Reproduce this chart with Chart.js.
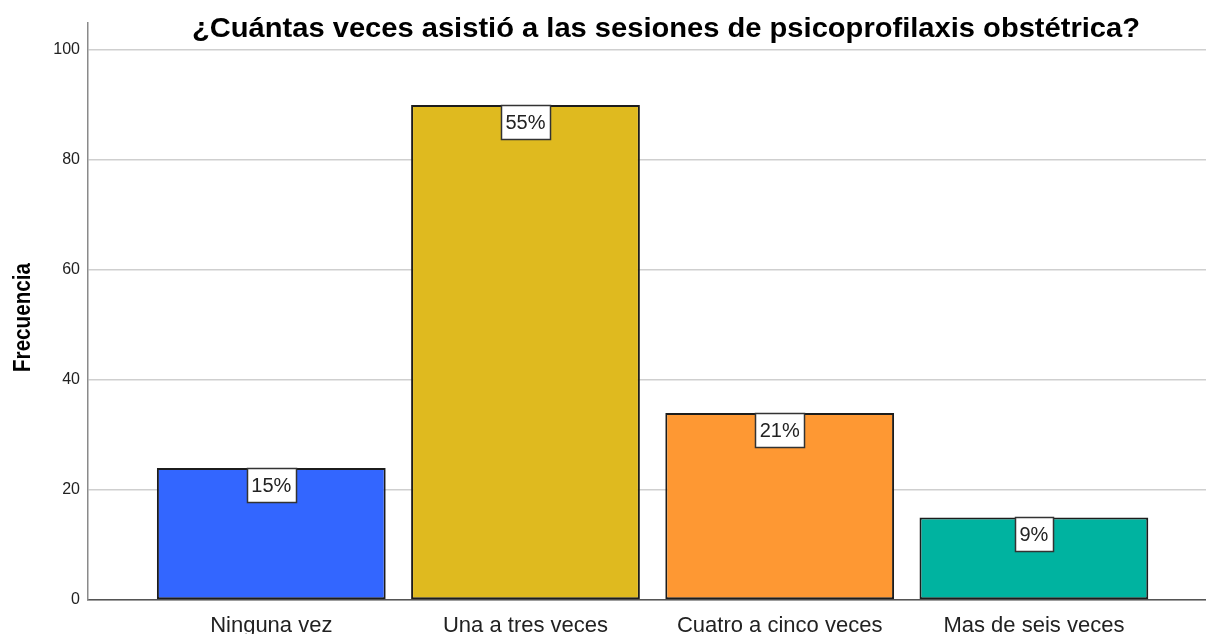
<!DOCTYPE html>
<html>
<head>
<meta charset="utf-8">
<script src="https://cdn.jsdelivr.net/npm/chart.js@4"></script>
<style>
  html, body { margin: 0; padding: 0; background: #fff; }
  #wrap { width: 1206px; height: 634px; }
</style>
</head>
<body>
<div id="wrap"><canvas id="c" width="1206" height="634"></canvas></div>
<script>
const chartTitle = '¿Cuántas veces asistió a las sesiones de psicoprofilaxis obstétrica?';
const yAxisTitle = 'Frecuencia';
const categories = ['Ninguna vez', 'Una a tres veces', 'Cuatro a cinco veces', 'Mas de seis veces'];
const counts = [24, 90, 34, 15];
const percentLabels = ['15%', '55%', '21%', '9%'];
const barColors = ['#3366FF', '#DFBA1F', '#FE9833', '#00B3A0'];
const yTicks = [0, 20, 40, 60, 80, 100];

const FONT = "'Liberation Sans', Arial, sans-serif";

function fitText(ctx, text, x, y, targetW, rot) {
  const w = ctx.measureText(text).width;
  ctx.save();
  ctx.translate(x, y);
  if (rot) ctx.rotate(rot);
  ctx.scale(targetW / w, 1);
  ctx.fillText(text, 0, 0);
  ctx.restore();
}

const titlePlugin = {
  id: 'spssTitle',
  afterDraw(chart) {
    const ctx = chart.ctx;
    ctx.save();
    ctx.fillStyle = '#000';
    ctx.textAlign = 'center';
    ctx.textBaseline = 'alphabetic';
    ctx.font = 'bold 27px ' + FONT;
    fitText(ctx, chartTitle, 666, 37, 948, 0);
    ctx.font = 'bold 23px ' + FONT;
    fitText(ctx, yAxisTitle, 30, 317.5, 109, -Math.PI / 2);
    ctx.restore();
  }
};

const pctPlugin = {
  id: 'pctLabels',
  afterDatasetsDraw(chart) {
    const ctx = chart.ctx;
    const meta = chart.getDatasetMeta(0);
    ctx.save();
    ctx.font = '20px ' + FONT;
    meta.data.forEach((el, i) => {
      const txt = percentLabels[i];
      const tw = ctx.measureText(txt).width;
      const bw = Math.round(tw + 9);
      const bh = 34;
      const x0 = Math.round(el.x - bw / 2) + 0.5;
      const y0 = Math.round(el.y) + 0.5;
      ctx.fillStyle = '#fff';
      ctx.fillRect(x0, y0, bw, bh);
      ctx.strokeStyle = '#333';
      ctx.lineWidth = 1.5;
      ctx.strokeRect(x0, y0, bw, bh);
      ctx.fillStyle = '#222';
      ctx.textAlign = 'center';
      ctx.textBaseline = 'middle';
      ctx.fillText(txt, el.x, y0 + bh / 2 + 1);
    });
    ctx.restore();
  }
};

new Chart(document.getElementById('c'), {
  type: 'bar',
  data: {
    datasets: [{
      data: counts.map((v, i) => ({ x: i + 1, y: v })),
      backgroundColor: barColors,
      borderColor: '#1c1c1c',
      borderWidth: 2,
      borderSkipped: false,
      barPercentage: 0.9,
      categoryPercentage: 1.0
    }]
  },
  options: {
    responsive: false,
    animation: false,
    devicePixelRatio: 1,
    layout: { padding: { top: 23, left: 0, right: 0, bottom: 0 } },
    plugins: {
      legend: { display: false },
      title: { display: false },
      tooltip: { enabled: false }
    },
    scales: {
      x: {
        type: 'linear',
        min: 0.279,
        max: 4.677,
        offset: false,
        grid: { display: false, drawTicks: false },
        border: { display: true, color: '#555', width: 1.5 },
        afterBuildTicks(scale) {
          scale.ticks = categories.map((c, i) => ({ value: i + 1 }));
        },
        afterFit(scale) { scale.height = 34; },
        ticks: {
          autoSkip: false,
          maxRotation: 0,
          minRotation: 0,
          padding: 13,
          color: '#222',
          font: { family: FONT, size: 22 },
          callback: (v) => categories[Math.round(v) - 1] ?? ''
        }
      },
      y: {
        min: 0,
        max: 104.9,
        afterBuildTicks(scale) {
          scale.ticks = yTicks.map(v => ({ value: v }));
        },
        afterFit(scale) { scale.width = 88; },
        grid: { color: '#cfcfcf', lineWidth: 1.5, drawTicks: false },
        border: { display: true, color: '#8a8a8a', width: 1.5 },
        ticks: {
          padding: 8,
          color: '#222',
          font: { family: FONT, size: 16 }
        },
        title: { display: false }
      }
    }
  },
  plugins: [pctPlugin, titlePlugin]
});
</script>
</body>
</html>
